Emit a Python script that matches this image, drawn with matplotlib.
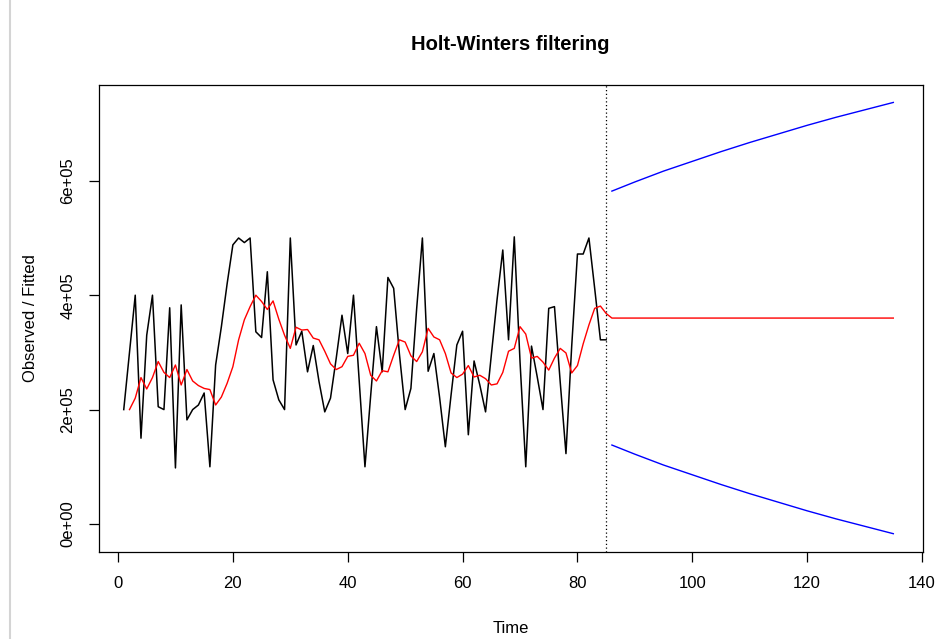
import numpy as np
import matplotlib
matplotlib.use("Agg")
from matplotlib import pyplot as plt
from matplotlib.lines import Line2D

plt.rcParams['font.family'] = ['Liberation Sans', 'DejaVu Sans']

# observed series, t = 1..85 (units of 1e5)
observed = [2.0, 3.0, 4.0, 1.5, 3.3, 4.0, 2.05, 2.0, 3.78, 0.98,
            3.83, 1.82, 2.0, 2.08, 2.29, 1.0, 2.78, 3.45, 4.2, 4.88,
            5.0, 4.92, 5.0, 3.36, 3.26, 4.41, 2.52, 2.17, 2.0, 5.0,
            3.13, 3.37, 2.66, 3.12, 2.49, 1.96, 2.2, 2.9, 3.65, 2.98,
            4.0, 2.5, 1.0, 2.25, 3.45, 2.66, 4.31, 4.12, 2.97, 2.0,
            2.37, 3.76, 5.0, 2.67, 2.98, 2.21, 1.35, 2.26, 3.13, 3.37,
            1.56, 2.85, 2.43, 1.96, 2.95, 3.92, 4.79, 3.22, 5.02, 2.84,
            1.0, 3.11, 2.57, 2.0, 3.77, 3.8, 2.48, 1.23, 3.11, 4.72,
            4.72, 5.0, 4.12, 3.22, 3.22]

# fitted series, t = 2..85
fitted = [2.0, 2.2, 2.56, 2.36, 2.56, 2.84, 2.65, 2.56, 2.78, 2.43,
          2.7, 2.5, 2.42, 2.37, 2.35, 2.08, 2.22, 2.46, 2.75, 3.22,
          3.57, 3.8, 4.0, 3.89, 3.75, 3.9, 3.58, 3.3, 3.07, 3.44,
          3.39, 3.4, 3.25, 3.22, 3.02, 2.8, 2.7, 2.75, 2.93, 2.95,
          3.16, 2.98, 2.6, 2.5, 2.68, 2.66, 2.95, 3.22, 3.18, 2.94,
          2.84, 3.01, 3.42, 3.27, 3.22, 2.98, 2.64, 2.56, 2.62, 2.77,
          2.57, 2.6, 2.54, 2.43, 2.45, 2.65, 3.02, 3.07, 3.45, 3.32,
          2.9, 2.93, 2.83, 2.69, 2.9, 3.07, 2.99, 2.64, 2.77, 3.15,
          3.48, 3.77, 3.81, 3.68]

# forecast, t = 86..135
fc_time = [86, 135]
fc_mean = [3.6, 3.6]
band_time = [86, 90, 95, 100, 105, 110, 115, 120, 125, 130, 135]
band_upr = [5.82, 5.98, 6.17, 6.34, 6.51, 6.67, 6.82, 6.97, 7.11, 7.24, 7.37]
band_lwr = [1.38, 1.22, 1.03, 0.86, 0.69, 0.53, 0.38, 0.23, 0.09, -0.04, -0.17]

t_obs = np.arange(1, len(observed) + 1)
t_fit = np.arange(2, len(fitted) + 2)
scale = 1e5

fig = plt.figure(figsize=(9.38, 6.39), dpi=100)
ax = fig.add_axes([99 / 938, 1 - 552 / 639, 824 / 938, 467 / 639])

ax.plot(t_obs, np.array(observed) * scale, color='black', lw=1.1)
ax.plot(list(t_fit) + fc_time, (np.array(fitted + fc_mean)) * scale, color='#ff0000', lw=1.0)
ax.plot(band_time, np.array(band_upr) * scale, color='#0000ff', lw=1.0)
ax.plot(band_time, np.array(band_lwr) * scale, color='#0000ff', lw=1.0)
ax.axvline(t_obs[-1], color='black', lw=0.9, ls=(0, (1, 2)))

ax.set_xlim(-3.31, 140.17)
ax.set_ylim(-0.49e5, 7.675e5)
ax.set_xticks([0, 20, 40, 60, 80, 100, 120, 140])
ax.set_yticks([0, 2e5, 4e5, 6e5])
ax.set_yticklabels(['0e+00', '2e+05', '4e+05', '6e+05'], rotation=90, va='center')
ax.tick_params(direction='out', length=7, width=0.9, labelsize=12, pad=10)
for s in ax.spines.values():
    s.set_linewidth(0.9)

ax.set_xlabel('Time', fontsize=12, labelpad=22)
ax.set_ylabel('Observed / Fitted', fontsize=12, labelpad=16)
fig.text(0.5435, 1 - 44 / 639, 'Holt-Winters filtering', ha='center', va='center',
         fontsize=14.5, fontweight='bold')

# screenshot border on the left
fig.add_artist(Line2D([10 / 938, 10 / 938], [0, 1], color='#d4d4d4', lw=1.5))

fig.savefig('out.png', dpi=100)
